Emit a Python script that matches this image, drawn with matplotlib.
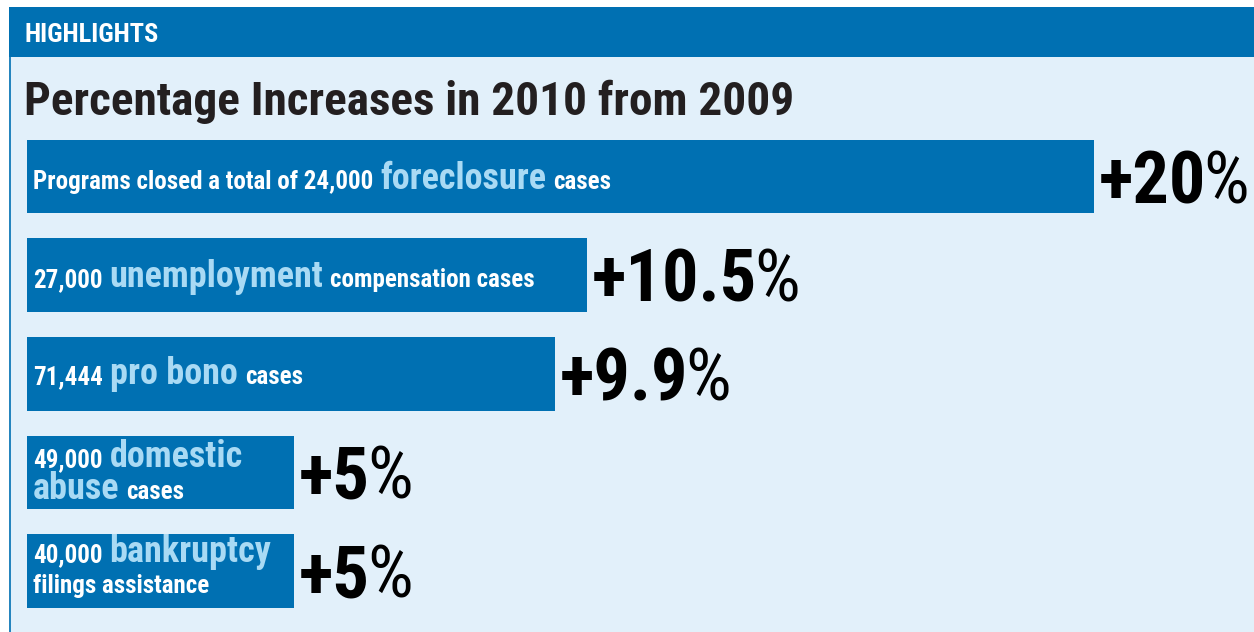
import matplotlib.pyplot as plt
from matplotlib.patches import Rectangle

plt.rcParams['font.family'] = ['Roboto Condensed', 'DejaVu Sans']

# data
values = [20, 10.5, 9.9, 5, 5]
value_labels = ['+20%', '+10.5%', '+9.9%', '+5%', '+5%']
# each row: list of lines, each line a list of (text, highlighted)
row_texts = [
    [[('Programs closed a total of 24,000', False), ('foreclosure', True), ('cases', False)]],
    [[('27,000', False), ('unemployment', True), ('compensation cases', False)]],
    [[('71,444', False), ('pro bono', True), ('cases', False)]],
    [[('49,000', False), ('domestic', True)], [('abuse', True), ('cases', False)]],
    [[('40,000', False), ('bankruptcy', True)], [('filings assistance', False)]],
]
title = 'Percentage Increases in 2010 from 2009'
header = 'HIGHLIGHTS'

BLUE = '#0070b2'
LIGHT = '#e2f0fa'
KEY = '#a9daf4'

W, H = 1254, 632
fig = plt.figure(figsize=(W / 100, H / 100), dpi=100)
fig.patch.set_facecolor('white')

# panel + header band
fig.add_artist(Rectangle((9 / W, 0), 1 - 9 / W, 1 - 57 / H, transform=fig.transFigure,
                         facecolor=LIGHT, edgecolor='none', zorder=0))
fig.add_artist(plt.Line2D([9.5 / W, 9.5 / W], [0, 1 - 57 / H], transform=fig.transFigure,
                          color=BLUE, linewidth=1.2, zorder=1))
fig.add_artist(Rectangle((9 / W, 1 - 57 / H), 1 - 9 / W, 50 / H, transform=fig.transFigure,
                         facecolor=BLUE, edgecolor='none', zorder=0))
fig.text(25 / W, 1 - 41.5 / H, header, color='white', fontsize=19, fontweight='bold',
         va='baseline', ha='left')
fig.text(24 / W, 1 - 115.5 / H, title, color='#231f20', fontsize=34, fontweight='bold',
         va='baseline', ha='left')

# bar axes: x=0 at pixel 27, rows 98.6 px apart
ax = fig.add_axes([27 / W, 1 - 620.3 / H, 1 - 27 / W, 493 / H])
ax.set_facecolor('none')
y = list(range(len(values)))
ax.barh(y, values, height=0.745, color=BLUE)
ax.set_xlim(0, 23)
ax.set_ylim(4.5, -0.5)
ax.axis('off')

renderer = fig.canvas.get_renderer()

# baseline offsets (px below bar centre)
small_size = 18
key_size = 26
line_offsets = [[12], [11.5], [10.5], [-5.3, 26.3], [-9.3, 22.3]]

for i, lines in enumerate(row_texts):
    for line, dy in zip(lines, line_offsets[i]):
        x = 6
        for s, hl in line:
            t = ax.annotate(s, xy=(0, i), xycoords='data', xytext=(x, -dy),
                            textcoords='offset pixels',
                            fontsize=key_size if hl else small_size,
                            color=KEY if hl else 'white', fontweight='bold',
                            ha='left', va='baseline')
            x += t.get_window_extent(renderer).width + 7

# big percentage labels: number bold, % sign lighter
for i, (v, lab) in enumerate(zip(values, value_labels)):
    t = ax.annotate(lab[:-1], xy=(v, i), xycoords='data', xytext=(5, -26.5),
                    textcoords='offset pixels', fontsize=52, fontweight='bold',
                    color='black', ha='left', va='baseline', annotation_clip=False)
    w = t.get_window_extent(renderer).width
    ax.annotate(lab[-1], xy=(v, i), xycoords='data', xytext=(5 + w - 3, -26.5),
                textcoords='offset pixels', fontsize=52, fontweight='normal',
                color='black', ha='left', va='baseline', annotation_clip=False)

fig.savefig('out.png', dpi=100)
